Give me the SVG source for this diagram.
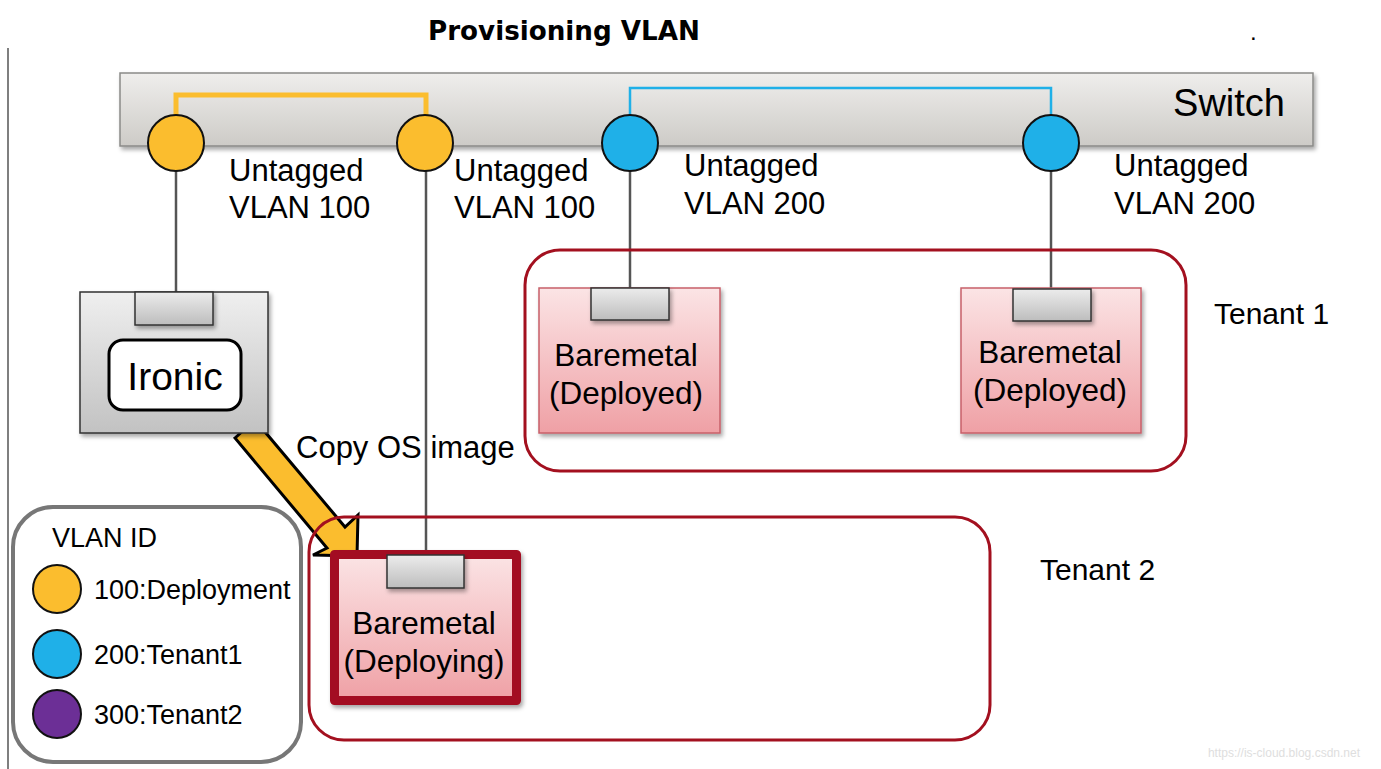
<svg xmlns="http://www.w3.org/2000/svg" width="1381" height="769" viewBox="0 0 1381 769">
<defs>
<linearGradient id="gSwitch" x1="0" y1="0" x2="0" y2="1"><stop offset="0" stop-color="#efeeec"/><stop offset="1" stop-color="#cdcbc7"/></linearGradient>
<linearGradient id="gGray" x1="0" y1="0" x2="0" y2="1"><stop offset="0" stop-color="#efefef"/><stop offset="1" stop-color="#c2c2c2"/></linearGradient>
<linearGradient id="gPort" x1="0" y1="0" x2="0" y2="1"><stop offset="0" stop-color="#ececec"/><stop offset="1" stop-color="#bdbdbd"/></linearGradient>
<linearGradient id="gPink" x1="0" y1="0" x2="0" y2="1"><stop offset="0" stop-color="#fbe4e5"/><stop offset="1" stop-color="#efa0a5"/></linearGradient>
<filter id="sh" x="-10%" y="-10%" width="130%" height="140%"><feDropShadow dx="2" dy="3" stdDeviation="2" flood-color="#000" flood-opacity="0.35"/></filter>
</defs>
<style>
.t{font-family:"Liberation Sans",Arial,sans-serif;fill:#000}
.lbl{font-size:31px}
.bm{font-size:31.5px;text-anchor:middle}
.lg{font-size:27px}
.port{fill:url(#gPort);stroke:#333;stroke-width:1.5}
.pink{fill:url(#gPink);stroke:#c8606a;stroke-width:1.5}
.tenant{fill:none;stroke:#a3101f;stroke-width:3}
.wire{stroke:#555;stroke-width:2.5;fill:none}
.y{fill:#fbbd2e;stroke:#111;stroke-width:2}
.b{fill:#1fb0e8;stroke:#111;stroke-width:2}
.p{fill:#6c2f96;stroke:#111;stroke-width:2}
</style>
<rect width="1381" height="769" fill="#fff"/>
<line x1="8" y1="48" x2="8" y2="769" stroke="#555" stroke-width="1.5"/>
<text class="t" x="428" y="40" style="font-family:'DejaVu Sans',sans-serif;font-weight:bold;font-size:26px" textLength="272" lengthAdjust="spacingAndGlyphs">Provisioning VLAN</text>
<text class="t" x="1250" y="40" style="font-size:24px">.</text>

<g id="switch">
<rect x="120" y="73" width="1193" height="73" fill="url(#gSwitch)" stroke="#8a8a88" stroke-width="1.5" filter="url(#sh)"/>
<text class="t" x="1285" y="116" text-anchor="end" style="font-size:38px">Switch</text>
<polyline points="176,118 176,95 426,95 426,118" fill="none" stroke="#fbbd2e" stroke-width="5"/>
<polyline points="630,118 630,88 1051,88 1051,118" fill="none" stroke="#1fb0e8" stroke-width="2.5"/>
</g>

<g id="connectors">
<line class="wire" x1="176" y1="170" x2="176" y2="292"/>
<line class="wire" x1="426" y1="170" x2="426" y2="555"/>
<line class="wire" x1="630" y1="170" x2="630" y2="288"/>
<line class="wire" x1="1051" y1="170" x2="1051" y2="289"/>
<polygon points="235,438 255,420 345,527 358,515 357,556 313,555 327,548" fill="#fbbd2e" stroke="#000" stroke-width="3" stroke-linejoin="miter"/>
</g>

<g id="ports">
<ellipse class="y" cx="176" cy="143" rx="28" ry="28"/>
<ellipse class="y" cx="425" cy="143" rx="28" ry="28"/>
<ellipse class="b" cx="630" cy="143" rx="28" ry="28"/>
<ellipse class="b" cx="1051" cy="143" rx="28" ry="28"/>
<text class="t lbl" x="229" y="181">Untagged</text>
<text class="t lbl" x="229" y="218">VLAN 100</text>
<text class="t lbl" x="454" y="181">Untagged</text>
<text class="t lbl" x="454" y="218">VLAN 100</text>
<text class="t lbl" x="684" y="176">Untagged</text>
<text class="t lbl" x="684" y="214">VLAN 200</text>
<text class="t lbl" x="1114" y="176">Untagged</text>
<text class="t lbl" x="1114" y="214">VLAN 200</text>
</g>

<g id="ironic">
<rect x="80" y="292" width="188" height="141" fill="url(#gGray)" stroke="#333" stroke-width="1.5" filter="url(#sh)"/>
<rect class="port" x="135" y="292" width="78" height="33" filter="url(#sh)"/>
<rect x="109" y="340" width="132" height="70" rx="14" fill="#fff" stroke="#000" stroke-width="3"/>
<text class="t" x="175" y="390" text-anchor="middle" style="font-size:39px">Ironic</text>
</g>

<g id="tenant1">
<rect class="tenant" x="525" y="250" width="661" height="221" rx="35"/>
<text class="t" x="1214" y="324" style="font-size:30px">Tenant 1</text>
</g>
<g id="baremetal1">
<rect class="pink" x="539" y="288" width="181" height="145" filter="url(#sh)"/>
<rect class="port" x="591" y="288" width="78" height="32" filter="url(#sh)"/>
<text class="t bm" x="626" y="366">Baremetal</text>
<text class="t bm" x="626" y="404">(Deployed)</text>
</g>
<g id="baremetal2">
<rect class="pink" x="961" y="288" width="180" height="145" filter="url(#sh)"/>
<rect class="port" x="1013" y="289" width="78" height="32" filter="url(#sh)"/>
<text class="t bm" x="1050" y="363">Baremetal</text>
<text class="t bm" x="1050" y="401">(Deployed)</text>
</g>

<g id="tenant2">
<rect class="tenant" x="309" y="517" width="681" height="223" rx="35"/>
<text class="t" x="1040" y="580" style="font-size:30px">Tenant 2</text>
</g>
<g id="baremetal3">
<rect x="334.5" y="554.5" width="182" height="146" fill="url(#gPink)" stroke="#a30f20" stroke-width="9" stroke-linejoin="round" filter="url(#sh)"/>
<rect class="port" x="387" y="555" width="77" height="33" filter="url(#sh)"/>
<text class="t bm" x="424" y="634">Baremetal</text>
<text class="t bm" x="424" y="672">(Deploying)</text>
</g>

<text class="t" x="296" y="458" style="font-size:31px">Copy OS image</text>

<g id="legend">
<rect x="13" y="507" width="288" height="255" rx="40" fill="#fff" stroke="#777" stroke-width="4"/>
<text class="t lg" x="52" y="547">VLAN ID</text>
<circle class="y" cx="57" cy="589" r="24"/>
<text class="t lg" x="94" y="599">100:Deployment</text>
<circle class="b" cx="57" cy="654" r="24"/>
<text class="t lg" x="94" y="664">200:Tenant1</text>
<circle class="p" cx="57" cy="714" r="24"/>
<text class="t lg" x="94" y="724">300:Tenant2</text>
</g>

<text class="t" x="1360" y="757" text-anchor="end" style="font-size:12px;fill:#dedede">https://is-cloud.blog.csdn.net</text>
</svg>
